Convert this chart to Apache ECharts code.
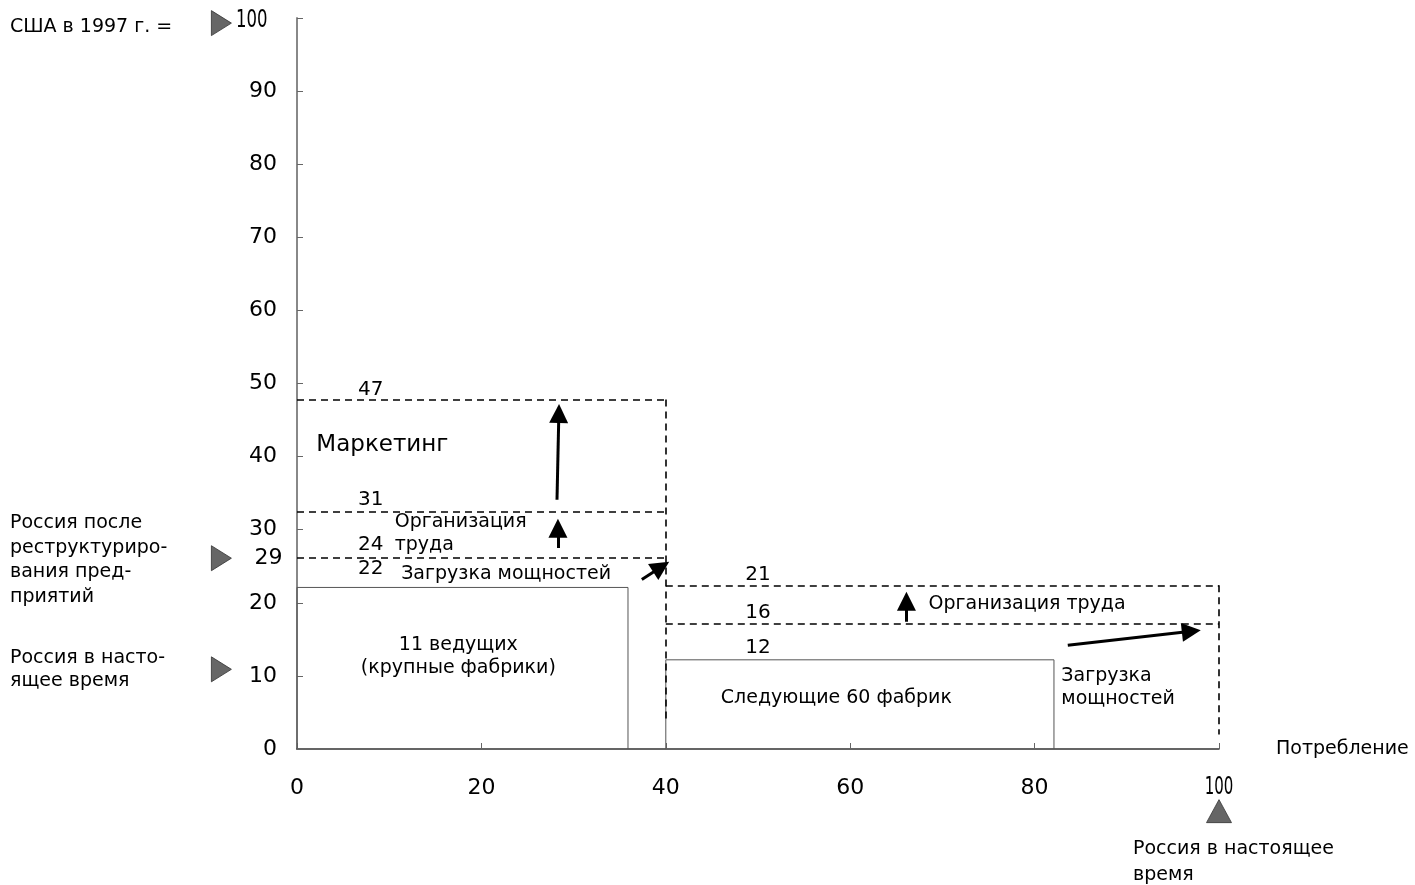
<!DOCTYPE html>
<html>
<head>
<meta charset="utf-8">
<script src="https://cdn.jsdelivr.net/npm/echarts@6/dist/echarts.min.js"></script>
<style>
html,body{margin:0;padding:0;background:#fff;}
#chart{width:1415px;height:885px;}
</style>
</head>
<body>
<div id="chart"></div>
<script>
// ---------- data ----------
// current state blocks: [x start, x end, level]
const blockStartX = [0, 40];
const blockEndX = [35.9, 82.1];
const blockLevel = [22.1, 12.2];
const blockNames = ['11 ведущих\n(крупные фабрики)', 'Следующие 60 фабрик'];

// potential levels (dashed), group 1 (x 0..40) and group 2 (x 40..100)
const group1Levels = [26.2, 32.4, 47.8];
const group2Levels = [17.2, 22.4];
const group1Span = [0, 40];
const group2Span = [40, 100];
const group1Bottom = 4;
const group2Bottom = 2;

// level value labels
const group1LabelText = ['22', '24', '31', '47'];
const group1LabelY = [24.6, 27.9, 34.1, 49.1];
const group1LabelX = 8;
const group2LabelText = ['12', '16', '21'];
const group2LabelY = [13.8, 18.6, 23.8];
const group2LabelX = 50;

// arrows: [x0, y0, x1, y1] (end = centre of the arrow head)
const arrowsData = [
  [28.2, 34.1, 28.4, 45.9],
  [28.3, 27.5, 28.3, 30.2],
  [37.4, 23.2, 39.5, 24.9],
  [66.1, 17.4, 66.1, 20.2],
  [83.6, 14.2, 97.0, 16.1]
];

// lever annotations (left aligned)
const leverText = ['Маркетинг', 'Организация\nтруда', 'Загрузка мощностей', 'Организация труда', 'Загрузка\nмощностей'];
const leverX = [2.1, 10.6, 11.3, 68.5, 82.9];
const leverY = [41.6, 29.5, 23.9, 19.8, 8.4];
const blockLabelX = [17.5, 58.5];
const blockLabelY = [12.7, 7.0];

// reference markers on the axes
const markerYValues = [99.3, 26.1, 10.9];
const markerYPosX = -8.2;
const markerXValue = 100;
const markerXPosY = -8.5;
const markerTopText = '100';
const markerTopPos = [-4.9, 99.6];
const markerMidText = '29';
const markerMidPos = [-3.1, 26.1];

// axis ticks
const xMin = 0, xMax = 100, xStep = 20;
const yMin = 0, yMax = 100, yStep = 10;

// ---------- chart ----------
const chart = echarts.init(document.getElementById('chart'));
const FONT = '"DejaVu Sans", "Liberation Sans", Arial, sans-serif';

function seg(x0, y0, x1, y1) { return { coords: [[x0, y0], [x1, y1]] }; }

const dashedSegs = [];
group1Levels.forEach(v => dashedSegs.push(seg(group1Span[0], v, group1Span[1], v)));
group2Levels.forEach(v => dashedSegs.push(seg(group2Span[0], v, group2Span[1], v)));
dashedSegs.push(seg(group1Span[1], Math.max(...group1Levels), group1Span[1], group1Bottom));
dashedSegs.push(seg(group2Span[1], Math.max(...group2Levels), group2Span[1], group2Bottom));

const blockPolys = blockStartX.map((x0, i) => ({
  coords: [[x0, 0], [x0, blockLevel[i]], [blockEndX[i], blockLevel[i]], [blockEndX[i], 0]]
}));

const arrowSegs = arrowsData.map(a => seg(a[0], a[1], a[2], a[3]));

const centerTexts = [];
group1LabelText.forEach((t, i) => centerTexts.push([group1LabelX, group1LabelY[i], t]));
group2LabelText.forEach((t, i) => centerTexts.push([group2LabelX, group2LabelY[i], t]));
const blockTexts = blockNames.map((t, i) => [blockLabelX[i], blockLabelY[i], t]);
const leverTexts = leverText.map((t, i) => [leverX[i], leverY[i], t]);

function textSeries(data, align, font, lineHeight, scaleX) {
  return {
    type: 'custom',
    coordinateSystem: 'cartesian2d',
    silent: true,
    clip: false,
    z: 10,
    data: data,
    renderItem: function (params, api) {
      const p = api.coord([api.value(0), api.value(1)]);
      const d = data[params.dataIndex];
      return {
        type: 'text',
        x: p[0], y: p[1],
        scaleX: scaleX || 1,
        style: { text: d[2], font: font, fill: '#000', align: align, verticalAlign: 'middle', lineHeight: lineHeight || 23 }
      };
    }
  };
}

const option = {
  animation: false,
  backgroundColor: '#fff',
  grid: { left: 297, right: 196, top: 18, bottom: 136, containLabel: false },
  xAxis: {
    type: 'value', min: xMin, max: xMax, interval: xStep,
    axisLine: { show: true, lineStyle: { color: '#333', width: 1.5 } },
    axisTick: { show: true, inside: true, length: 6, lineStyle: { color: '#666' } },
    splitLine: { show: false },
    axisLabel: { margin: 28, fontSize: 22, fontFamily: FONT, color: '#000',
      formatter: v => (v === xMax ? '' : String(v)) }
  },
  yAxis: {
    type: 'value', min: yMin, max: yMax, interval: yStep,
    axisLine: { show: true, lineStyle: { color: '#888', width: 2 } },
    axisTick: { show: true, inside: true, length: 6, lineStyle: { color: '#666' } },
    splitLine: { show: false },
    axisLabel: { margin: 20, fontSize: 22, fontFamily: FONT, color: '#000',
      formatter: v => (v === yMax ? '' : String(v)) }
  },
  series: [
    {
      type: 'lines', coordinateSystem: 'cartesian2d', polyline: true, silent: true,
      lineStyle: { color: '#555', width: 1, opacity: 1 },
      data: blockPolys
    },
    {
      type: 'lines', coordinateSystem: 'cartesian2d', silent: true,
      lineStyle: { color: '#000', width: 1.6, type: [7, 5], opacity: 1 },
      data: dashedSegs
    },
    {
      type: 'lines', coordinateSystem: 'cartesian2d', silent: true,
      symbol: ['none', 'triangle'], symbolSize: 19,
      itemStyle: { color: '#000' },
      lineStyle: { color: '#000', width: 3, opacity: 1 },
      data: arrowSegs
    },
    {
      type: 'scatter', silent: true, clip: false,
      symbol: 'triangle', symbolRotate: -90, symbolSize: [25, 20],
      itemStyle: { color: '#666', borderColor: '#333', borderWidth: 0.8, opacity: 1 },
      data: markerYValues.map(v => [markerYPosX, v])
    },
    {
      type: 'scatter', silent: true, clip: false,
      symbol: 'triangle', symbolSize: [25, 23],
      itemStyle: { color: '#666', borderColor: '#333', borderWidth: 0.8, opacity: 1 },
      data: [[markerXValue, markerXPosY]]
    },
    textSeries([[markerTopPos[0], markerTopPos[1], markerTopText]], 'center', '25px ' + FONT, 23, 0.66),
    textSeries([[markerMidPos[0], markerMidPos[1], markerMidText]], 'center', '22px ' + FONT),
    textSeries(centerTexts, 'center', '20px ' + FONT),
    textSeries(blockTexts, 'center', '19px ' + FONT),
    textSeries(leverTexts.slice(0, 1), 'left', '23px ' + FONT),
    textSeries(leverTexts.slice(1), 'left', '19px ' + FONT)
  ],
  graphic: [
    { type: 'text', x: 10, y: 27, style: { text: 'США в 1997 г. =', font: '19px ' + FONT, fill: '#000', verticalAlign: 'middle' } },
    { type: 'text', x: 10, y: 560, style: { text: 'Россия после\nреструктуриро-\nвания пред-\nприятий', font: '19px ' + FONT, fill: '#000', verticalAlign: 'middle', lineHeight: 24.5 } },
    { type: 'text', x: 10, y: 670, style: { text: 'Россия в насто-\nящее время', font: '19px ' + FONT, fill: '#000', verticalAlign: 'middle', lineHeight: 23 } },
    { type: 'text', x: 1276, y: 749, style: { text: 'Потребление', font: '19px ' + FONT, fill: '#000', verticalAlign: 'middle' } },
    { type: 'text', x: 1133, y: 862, style: { text: 'Россия в настоящее\nвремя', font: '19px ' + FONT, fill: '#000', verticalAlign: 'middle', lineHeight: 26 } },
    { type: 'text', x: 1219, y: 787, scaleX: 0.6, style: { text: '100', font: '25px ' + FONT, fill: '#000', align: 'center', verticalAlign: 'middle' } }
  ]
};
chart.setOption(option);
</script>
</body>
</html>
